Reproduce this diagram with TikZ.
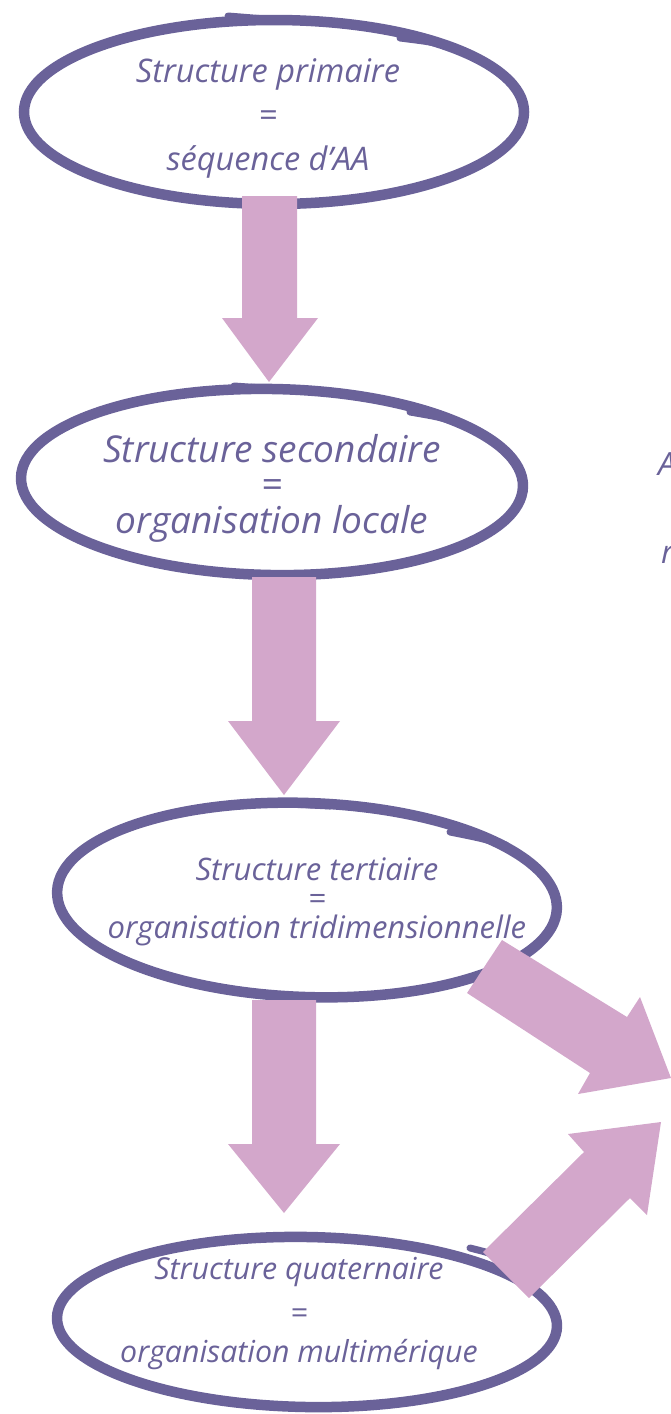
\documentclass[tikz,border=0pt]{standalone}
\usepackage{fontspec}
\setmainfont{Open Sans}
\usetikzlibrary{shapes.geometric}
\definecolor{ringpurple}{HTML}{6A6299}
\definecolor{arrowpink}{HTML}{D3A7CB}
\tikzset{
  ring/.style={draw=ringpurple, line width=10.5pt, ellipse, inner sep=0pt, outer sep=0pt},
  tail/.style={draw=ringpurple, line width=7pt, line cap=round},
  blockarrow/.style={fill=arrowpink, draw=none},
  lbl/.style={text=ringpurple, anchor=base, inner sep=0pt, font=\itshape},
}
\begin{document}
\begin{tikzpicture}[x=1pt, y=-1pt]
\useasboundingbox (0,0) rectangle (671,1414);
\clip (0,0) rectangle (671,1414);

% ellipses
\node[ring, minimum width=500pt, minimum height=184pt] (e1) at (274,112) {};
\node[ring, minimum width=502pt, minimum height=186pt, rotate=-1] (e2) at (272,482) {};
\node[ring, minimum width=500pt, minimum height=194pt, rotate=-2] (e3) at (307,900) {};
\node[ring, minimum width=500pt, minimum height=170pt, rotate=-1] (e4) at (307,1322) {};

% hand-drawn stroke tails
\draw[tail] (228,16) -- (290,21);
\draw[tail] (400,38) .. controls (440,43) .. (470,54);
\draw[tail] (234,386) -- (290,390);
\draw[tail] (410,412) .. controls (445,418) .. (474,430);
\draw[tail] (272,803) -- (330,806);
\draw[tail] (450,832) .. controls (480,838) .. (506,845);
\draw[tail] (470,1248) .. controls (490,1253) .. (505,1260);

% vertical block arrows
\coordinate (a1) at (269.5,196);
\draw[blockarrow] (242,196) -- (297,196) -- (297,318) -- (318,318) -- (269,382) -- (222,318) -- (242,318) -- cycle;
\coordinate (a2) at (284,577);
\draw[blockarrow] (252,577) -- (316,577) -- (316,721) -- (340,721) -- (284,795) -- (228,721) -- (252,721) -- cycle;
\coordinate (a3) at (284,1000);
\draw[blockarrow] (252,1000) -- (316,1000) -- (316,1144) -- (340,1144) -- (284,1213) -- (228,1144) -- (252,1144) -- cycle;

% diagonal block arrows
\draw[blockarrow] (502,940) -- (627,1017) -- (640,997) -- (671,1078) -- (578,1094) -- (590,1073) -- (467,993) -- cycle;
\draw[blockarrow] (483,1252) -- (584,1152) -- (568,1134) -- (661,1122) -- (647,1215) -- (630,1198) -- (529,1298) -- cycle;

% texts
\node[lbl, font=\itshape\fontsize{32.5}{38}\selectfont] (t1a) at (268,82) {Structure primaire};
\node[lbl, font=\itshape\fontsize{32.5}{38}\selectfont] (t1b) at (268,126) {=};
\node[lbl, font=\itshape\fontsize{32.5}{38}\selectfont] (t1c) at (268,170) {séquence d’AA};

\node[lbl, font=\itshape\fontsize{37}{44}\selectfont] (t2a) at (272,462) {Structure secondaire};
\node[lbl, font=\itshape\fontsize{37}{44}\selectfont] (t2b) at (272,497) {=};
\node[lbl, font=\itshape\fontsize{37}{44}\selectfont] (t2c) at (272,533) {organisation locale};

\node[lbl, font=\itshape\fontsize{31}{36}\selectfont] (t3a) at (317,880) {Structure tertiaire};
\node[lbl, font=\itshape\fontsize{31}{36}\selectfont] (t3b) at (317,909) {=};
\node[lbl, font=\itshape\fontsize{31}{36}\selectfont] (t3c) at (317,938) {organisation tridimensionnelle};

\node[lbl, font=\itshape\fontsize{30.3}{36}\selectfont] (t4a) at (299,1279) {Structure quaternaire};
\node[lbl, font=\itshape\fontsize{30.3}{36}\selectfont] (t4b) at (299,1323) {=};
\node[lbl, font=\itshape\fontsize{30.3}{36}\selectfont] (t4c) at (299,1362) {organisation multimérique};

\node[lbl, anchor=base west, font=\itshape\fontsize{32}{38}\selectfont] (r1) at (658,475) {A};
\node[lbl, anchor=base west, font=\itshape\fontsize{32}{38}\selectfont] (r2) at (661,563) {r};
\end{tikzpicture}
\end{document}
